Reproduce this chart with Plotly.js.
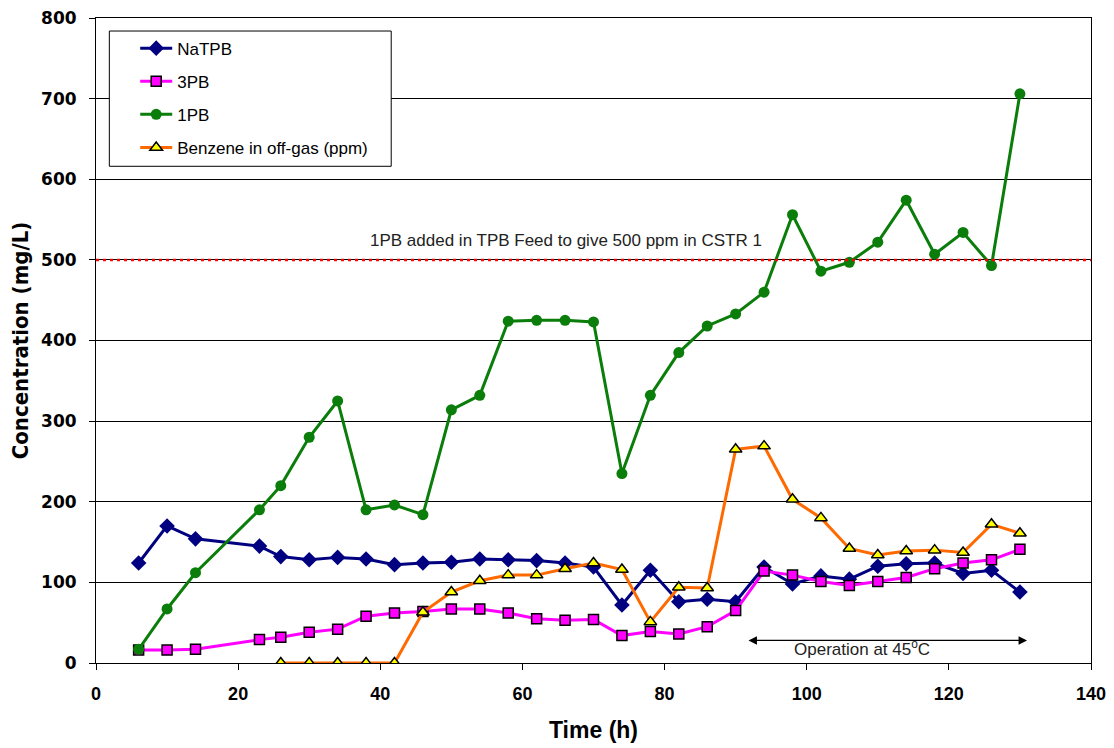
<!DOCTYPE html>
<html>
<head>
<meta charset="utf-8">
<script src="https://cdn.plot.ly/plotly-3.0.1.min.js"></script>
<style>
  html, body { margin: 0; padding: 0; background: #fff; }
  #chart { width: 1114px; height: 748px; }
</style>
</head>
<body>
<div id="chart"></div>
<script>
// Sampling times (h)
const time = [6, 10, 14, 23, 26, 30, 34, 38, 42, 46, 50, 54, 58, 62, 66, 70, 74, 78, 82, 86, 90, 94, 98, 102, 106, 110, 114, 118, 122, 126, 130];

// Concentrations (mg/L)
const naTPB = [124, 170, 154, 145, 132, 128, 131, 129, 122, 124, 125, 129, 128, 127, 124, 119, 72, 115, 76, 79, 76, 119, 98, 108, 104, 120, 123, 124, 111, 115, 88];
const pb3   = [16, 16, 17, 29, 32, 38, 42, 58, 62, 64, 67, 67, 62, 55, 53, 54, 34, 39, 36, 45, 65, 114, 109, 101, 96, 101, 106, 117, 124, 128, 141];
const pb1   = [17, 67, 112, 190, 220, 280, 325, 190, 196, 184, 314, 332, 424, 425, 425, 423, 235, 332, 385, 418, 433, 460, 556, 486, 497, 522, 574, 507, 534, 493, 706];

// Benzene in off-gas (ppm), first measured at 26 h
const benzeneTime = [26, 30, 34, 38, 42, 46, 50, 54, 58, 62, 66, 70, 74, 78, 82, 86, 90, 94, 98, 102, 106, 110, 114, 118, 122, 126, 130];
const benzene     = [0, 0, 0, 0, 0, 63, 88, 102, 109, 109, 117, 124, 116, 51, 94, 93, 265, 269, 203, 180, 142, 134, 139, 140, 137, 172, 161];

// Reference level for 1PB addition
const feedLevel = 500;
const feedLabel = '1PB added in TPB Feed to give 500 ppm in CSTR 1';

// Elevated-temperature operating window (h)
const hotStart = 91.6;
const hotEnd = 131;
const hotLabel = 'Operation at 45<sup>o</sup>C';

const FONT = 'Liberation Sans, Arial, Helvetica, sans-serif';
const CONDENSED = 'DejaVu Sans Condensed, Arial Narrow, sans-serif';
const WIDE = 'DejaVu Sans, Verdana, sans-serif';

const traces = [
  {
    x: time, y: naTPB, name: 'NaTPB', legendgroup: 'a',
    mode: 'lines+markers',
    line: { color: '#000080', width: 3 },
    marker: { symbol: 'diamond', size: 12, color: '#000080' }
  },
  {
    x: time, y: pb3, name: '3PB', legendgroup: 'b',
    mode: 'lines+markers',
    line: { color: '#FF00FF', width: 3 },
    marker: { symbol: 'square', size: 10, color: '#FF00FF', line: { color: '#000000', width: 1.5 } }
  },
  {
    x: time, y: pb1, name: '1PB', legendgroup: 'c',
    mode: 'lines+markers',
    line: { color: '#0A7D0A', width: 3 },
    marker: { symbol: 'circle', size: 11, color: '#0A7D0A' }
  },
  {
    x: benzeneTime, y: benzene, name: 'Benzene in off-gas (ppm)', legendgroup: 'd',
    mode: 'lines+markers',
    line: { color: '#FF6A00', width: 3 },
    marker: { symbol: 'triangle-up', size: 11, color: '#FFFF00', line: { color: '#000000', width: 1.5 } }
  }
];

const layout = {
  width: 1114,
  height: 748,
  margin: { l: 96, r: 23, t: 18, b: 85 },
  paper_bgcolor: '#ffffff',
  plot_bgcolor: '#ffffff',
  font: { family: FONT, color: '#000000', size: 17 },
  showlegend: true,
  legend: {
    x: 0.0394, y: 0.9805, xanchor: 'left', yanchor: 'top',
    bgcolor: 'rgba(0,0,0,0)', borderwidth: 0,
    font: { family: FONT, size: 17, color: '#000000' },
    traceorder: 'grouped', tracegroupgap: 8,
    itemwidth: 32
  },
  xaxis: {
    range: [0, 140],
    dtick: 20,
    showgrid: false,
    zeroline: false,
    showline: true, linecolor: '#000000', linewidth: 1, mirror: true,
    ticks: 'outside', ticklen: 6, tickcolor: '#000000',
    ticklabelstandoff: 8,
    tickfont: { family: FONT, size: 18, color: '#000000', weight: 'bold' },
    title: { text: '<b>Time (h)</b>', font: { family: FONT, size: 23, color: '#000000' }, standoff: 19 }
  },
  yaxis: {
    range: [0, 800],
    dtick: 100,
    showgrid: true, gridcolor: '#000000', gridwidth: 1,
    zeroline: false,
    showline: true, linecolor: '#000000', linewidth: 1, mirror: true,
    ticks: 'outside', ticklen: 6, tickcolor: '#000000',
    ticklabelstandoff: 9,
    tickfont: { family: WIDE, size: 17, color: '#000000', weight: 'bold' },
    title: { text: '<b>Concentration (mg/L)</b>', font: { family: CONDENSED, size: 22, color: '#000000' }, standoff: 6 }
  },
  shapes: [
    {
      type: 'line', xref: 'paper', x0: 0, x1: 1, yref: 'y', y0: feedLevel, y1: feedLevel,
      line: { color: '#FF0000', width: 2.5, dash: '3px,4px' }
    },
    {
      // legend frame
      type: 'rect', xref: 'paper', yref: 'paper', layer: 'above',
      x0: 0.0134, x1: 0.2967, y0: 0.7701, y1: 0.9798,
      fillcolor: '#ffffff', line: { color: '#000000', width: 1 }
    }
  ],
  annotations: [
    {
      xref: 'x', yref: 'y', x: 66.2, y: feedLevel, yanchor: 'bottom', yshift: 8,
      text: feedLabel, showarrow: false,
      font: { family: FONT, size: 17, color: '#222222' }
    },
    {
      xref: 'x', yref: 'y', axref: 'x', ayref: 'y',
      x: hotEnd, y: 28, ax: hotStart, ay: 28,
      text: '', showarrow: true,
      arrowhead: 2, startarrowhead: 2, arrowside: 'end+start',
      arrowsize: 1.3, startarrowsize: 1.3, arrowwidth: 1.3, arrowcolor: '#000000'
    },
    {
      xref: 'x', yref: 'y', x: 107.8, y: 18,
      text: hotLabel, showarrow: false,
      font: { family: FONT, size: 17, color: '#222222' }
    }
  ]
};

Plotly.newPlot('chart', traces, layout, { displayModeBar: false, staticPlot: true });
</script>
</body>
</html>
